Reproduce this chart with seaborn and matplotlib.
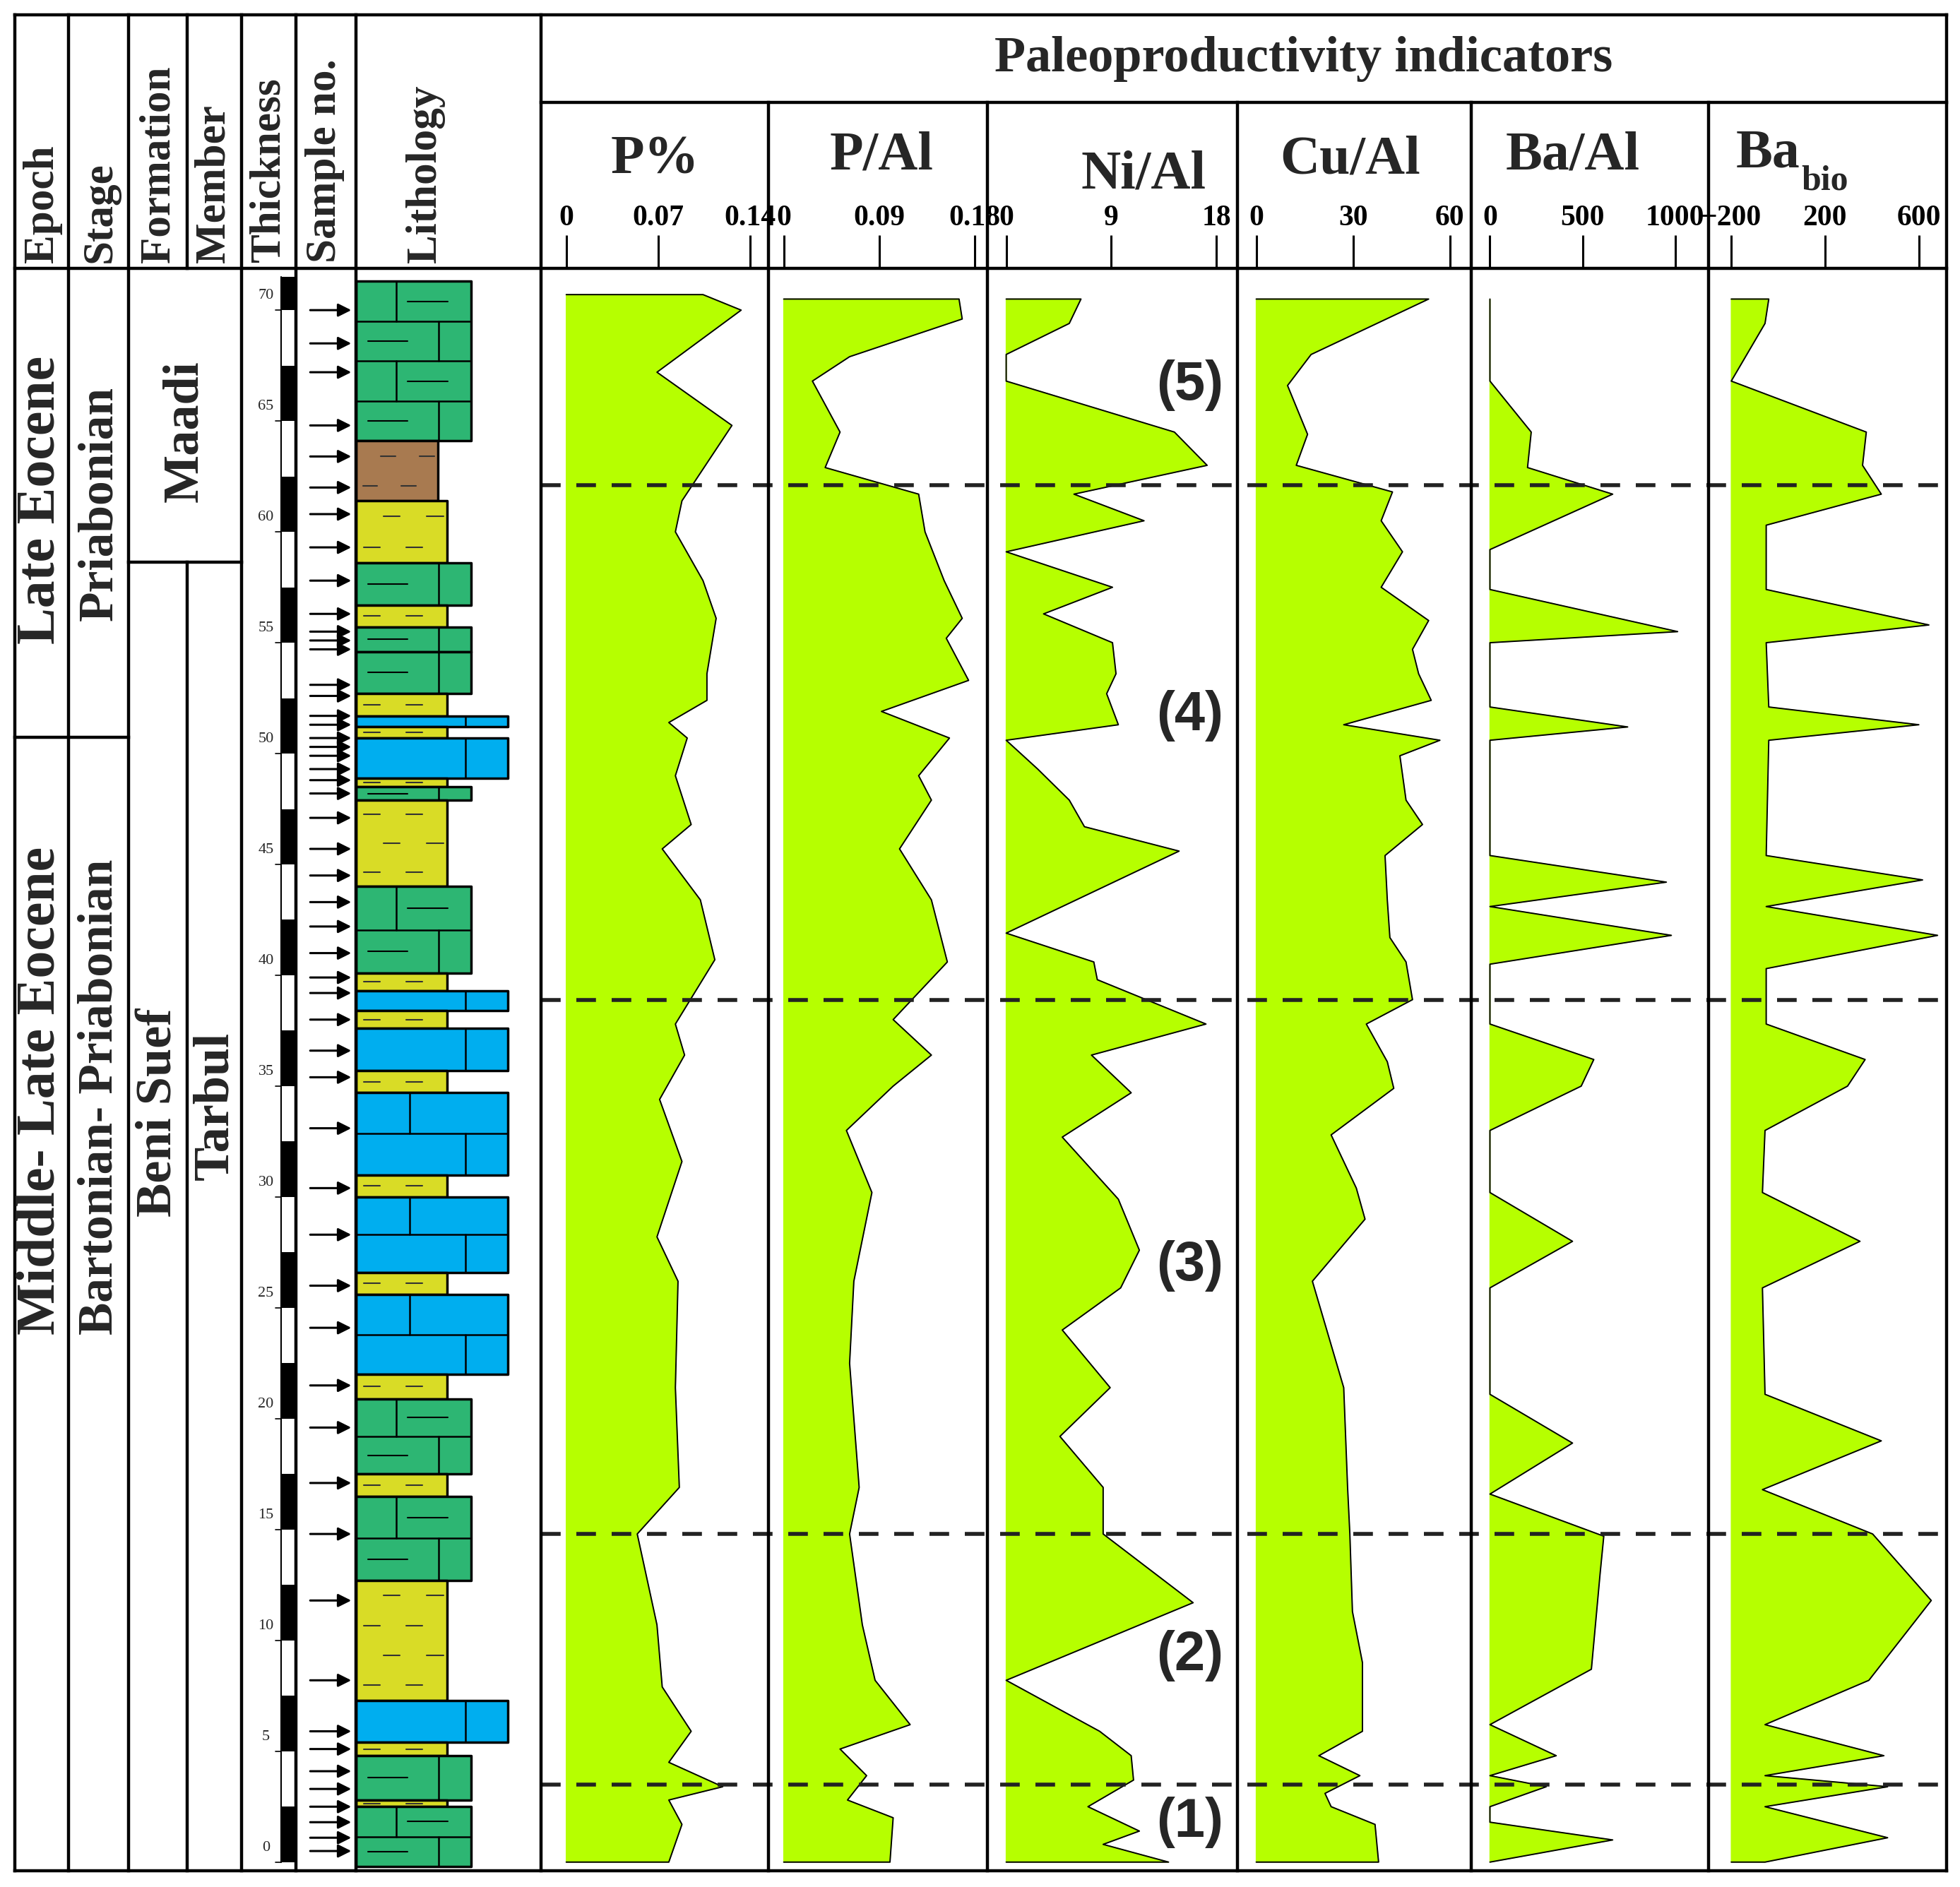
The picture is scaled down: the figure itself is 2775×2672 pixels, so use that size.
import numpy as np
import matplotlib
matplotlib.use("Agg")
import matplotlib.pyplot as plt
import seaborn as sns

# ─── Data (depth in m, values in axis units) ──────────────────────────────────

p_depth = [70.7, 70.0, 67.2, 64.8, 61.4, 60.0, 57.8, 56.1, 53.6, 52.4, 51.4, 50.7,
           49.0, 46.8, 45.7, 43.4, 40.7, 37.8, 36.4, 34.4, 31.6, 28.2, 26.2, 21.4,
           16.9, 14.8, 10.7, 7.9, 5.9, 4.5, 3.4, 2.8, 1.7, 0.0]
p_pct = [0.104, 0.133, 0.069, 0.126, 0.088, 0.083, 0.104, 0.114, 0.107, 0.107, 0.078,
         0.092, 0.083, 0.095, 0.073, 0.102, 0.113, 0.083, 0.090, 0.071, 0.088, 0.069,
         0.085, 0.083, 0.086, 0.054, 0.069, 0.073, 0.095, 0.078, 0.119, 0.078, 0.088,
         0.078]

pal_depth = [70.5, 69.6, 67.9, 66.8, 64.5, 62.9, 61.7, 60.0, 57.8, 56.1, 55.2, 53.3,
             51.9, 50.7, 49.0, 47.9, 45.7, 43.4, 40.6, 38.0, 36.4, 35.0, 33.0, 30.2,
             26.2, 22.5, 16.9, 14.8, 10.7, 8.2, 6.2, 5.1, 3.9, 2.8, 2.0, 0.0]
p_al = [0.165, 0.168, 0.062, 0.027, 0.053, 0.039, 0.127, 0.133, 0.151, 0.168, 0.153,
        0.174, 0.092, 0.156, 0.127, 0.139, 0.109, 0.139, 0.154, 0.103, 0.139, 0.103,
        0.059, 0.083, 0.066, 0.062, 0.071, 0.062, 0.074, 0.086, 0.119, 0.053, 0.078,
        0.060, 0.103, 0.100]

ni_depth = [70.5, 69.4, 68.0, 66.8, 64.5, 63.0, 61.7, 60.5, 59.1, 57.5, 56.3, 55.0,
            53.6, 52.7, 51.3, 50.6, 49.3, 47.9, 46.7, 45.6, 41.9, 40.6, 39.8, 37.8,
            36.4, 34.7, 32.7, 29.9, 27.6, 25.9, 24.0, 21.4, 19.2, 16.9, 14.8, 11.7,
            8.2, 5.9, 4.8, 3.7, 2.5, 1.4, 0.8, 0.0]
ni_al = [6.4, 5.4, 0.0, 0.0, 14.4, 17.2, 5.8, 11.8, 0.0, 9.1, 3.2, 9.1, 9.4, 8.6, 9.6,
         0.0, 2.7, 5.4, 6.7, 14.8, 0.0, 7.5, 7.8, 17.1, 7.3, 10.7, 4.8, 9.6, 11.4, 9.8,
         4.8, 8.9, 4.6, 8.3, 8.3, 16.0, 0.0, 8.0, 10.7, 10.9, 7.0, 11.4, 8.3, 13.9]

cu_depth = [70.5, 68.0, 66.6, 64.4, 63.0, 61.8, 60.5, 59.1, 57.5, 56.0, 54.7, 53.6,
            52.4, 51.3, 50.6, 49.9, 47.9, 46.8, 45.4, 43.4, 41.7, 40.6, 38.9, 37.8,
            36.1, 34.9, 32.8, 30.4, 29.0, 26.2, 21.4, 16.9, 14.8, 11.3, 9.0, 5.9, 4.8,
            3.9, 3.1, 2.5, 1.7, 0.0]
cu_al = [53.4, 17.0, 9.7, 15.9, 12.4, 42.2, 38.7, 45.3, 38.7, 53.4, 48.4, 50.3, 54.2,
         27.1, 56.9, 44.5, 46.4, 51.5, 39.9, 40.6, 41.4, 46.4, 48.4, 34.1, 40.6, 42.6,
         23.2, 31.0, 33.7, 17.4, 27.1, 28.3, 29.0, 29.8, 32.9, 32.9, 19.4, 32.1, 21.3,
         23.2, 36.8, 37.9]

ba_depth = [70.5, 66.8, 64.5, 62.9, 61.7, 59.2, 57.4, 55.5, 55.0, 52.1, 51.2, 50.6,
            45.4, 44.2, 43.1, 41.8, 40.5, 37.8, 36.2, 35.0, 33.0, 30.2, 28.0, 25.9,
            21.1, 18.9, 16.6, 14.7, 13.0, 8.7, 6.2, 4.8, 3.9, 3.4, 2.5, 1.8, 1.0, 0.0]
ba_al = [0, 0, 223, 203, 663, 0, 0, 1014, 0, 0, 744, 0, 0, 953, 0, 980, 0, 0, 561, 493,
         0, 0, 446, 0, 0, 446, 0, 615, 595, 548, 0, 358, 0, 304, 0, 0, 663, 0]

babio_depth = [70.5, 69.4, 66.8, 64.5, 63.0, 61.7, 60.3, 57.4, 55.8, 55.0, 52.1, 51.3,
               50.6, 45.4, 44.3, 43.1, 41.8, 40.3, 37.8, 36.2, 35.0, 33.0, 30.2, 28.0,
               25.9, 21.1, 19.0, 16.8, 14.8, 11.8, 8.2, 6.2, 4.8, 3.9, 3.4, 2.5, 1.1, 0.0]
ba_bio = [-40, -56, -200, 376, 360, 440, -51, -51, 643, -51, -40, 600, -40, -51, 616,
          -51, 680, -51, -51, 371, 296, -56, -67, 349, -67, -56, 440, -67, 403, 653,
          387, -56, 451, -56, 467, -56, 467, -56]

sample_depths = [70.0, 68.5, 67.2, 64.8, 63.4, 62.0, 60.8, 59.3, 57.8, 56.3, 55.5, 55.1,
                 54.7, 53.1, 52.6, 51.7, 51.3, 50.7, 50.3, 49.9, 49.3, 48.8, 48.2, 47.1,
                 45.7, 44.5, 43.3, 42.2, 41.0, 39.9, 39.2, 38.0, 36.6, 35.4, 33.1, 30.4,
                 28.3, 26.0, 24.1, 21.5, 19.6, 17.1, 14.8, 11.8, 8.2, 5.9, 5.1, 4.1, 3.3,
                 2.5, 1.8, 1.1, 0.5]

# lithology beds: (top, base, rock)
bed_top = [71.3, 64.1, 61.4, 58.6, 56.7, 55.7, 54.6, 52.7, 51.7, 51.2, 50.7, 48.9, 48.5,
           47.9, 44.0, 40.1, 39.3, 38.4, 37.6, 35.7, 34.7, 31.0, 30.0, 26.6, 25.6, 22.0,
           20.9, 17.5, 16.5, 12.7, 7.3, 5.4, 4.8, 2.8, 2.5]
bed_base = [64.1, 61.4, 58.6, 56.7, 55.7, 54.6, 52.7, 51.7, 51.2, 50.7, 48.9, 48.5, 47.9,
            44.0, 40.1, 39.3, 38.4, 37.6, 35.7, 34.7, 31.0, 30.0, 26.6, 25.6, 22.0, 20.9,
            17.5, 16.5, 12.7, 7.3, 5.4, 4.8, 2.8, 2.5, -0.2]
bed_rock = ["green", "brown", "yellow", "green", "yellow", "green", "green", "yellow",
            "blue", "yellow", "blue", "yellow", "green", "yellow", "green", "yellow",
            "blue", "yellow", "blue", "yellow", "blue", "yellow", "blue", "yellow",
            "blue", "yellow", "green", "yellow", "green", "yellow", "blue", "yellow",
            "green", "yellow", "green"]

zone_bounds = [62.1, 38.9, 14.8, 3.5]
zone_labels = ["(5)", "(4)", "(3)", "(2)", "(1)"]
zone_label_depth = [66.6, 51.7, 26.9, 9.3, 1.8]
thick_ticks = list(range(0, 71, 5))

# ─── Style ────────────────────────────────────────────────────────────────────

sns.set_theme(style="white")
plt.rcParams["font.family"] = ["Liberation Serif", "DejaVu Serif"]
plt.rcParams["font.weight"] = "bold"

FILL = "#b6ff00"
ROCK = {"green": ("#2db673", 0.62), "brown": ("#a87a50", 0.44),
        "yellow": ("#d9dc26", 0.49), "blue": ("#00aeef", 0.82)}
W, H = 1568, 1510
TOP_D, BOT_D = 71.87, -0.39

fig = plt.figure(figsize=(27.75, 26.72), dpi=100)


def add_ax(x0, x1, y0=215, y1=1497):
    return fig.add_axes([x0 / W, 1 - y1 / H, (x1 - x0) / W, (y1 - y0) / H])


def clean(ax):
    ax.set_ylim(BOT_D, TOP_D)
    ax.set_facecolor("none")
    for s in ax.spines.values():
        s.set_visible(False)
    ax.set_xlabel("")
    ax.set_ylabel("")


# ─── Data panels ──────────────────────────────────────────────────────────────

panels = [
    (433, 615, p_depth, p_pct, 0, (-0.019, 0.154), [0, 0.07, 0.14], ["0", "0.07", "0.14"], True),
    (615, 790, pal_depth, p_al, 0, (-0.0141, 0.1918), [0, 0.09, 0.18], ["0", "0.09", "0.18"], True),
    (790, 990, ni_depth, ni_al, 0, (-1.6, 19.8), [0, 9, 18], ["0", "9", "18"], True),
    (990, 1177, cu_depth, cu_al, 0, (-5.8, 66.6), [0, 30, 60], ["0", "30", "60"], True),
    (1177, 1367, ba_depth, ba_al, 0, (-101, 1182), [0, 500, 1000], ["0", "500", "1000"], True),
    (1367, 1557, babio_depth, ba_bio, -200, (-296, 717), [-200, 200, 600], ["\u2212200", "200", "600"], True),
]

for x0, x1, dep, val, base, xl, ticks, tlabels, top in panels:
    ax = add_ax(x0, x1)
    xs = [base] + list(val) + [base]
    ys = [dep[0]] + list(dep) + [dep[-1]]
    ax.fill(xs, ys, color=FILL, zorder=1)
    sns.lineplot(x=xs, y=ys, sort=False, estimator=None, orient="y",
                 color="black", lw=1.4, ax=ax, zorder=2)
    ax.set_xlim(*xl)
    clean(ax)
    ax.set_yticks([])
    ax.xaxis.tick_top()
    ax.set_xticks(ticks)
    ax.set_xticklabels(tlabels)
    ax.tick_params(axis="x", direction="out", length=34, width=2.2, colors="black",
                   labelsize=30, pad=4, top=True, bottom=False)

# zone boundaries and labels
zax = add_ax(433, 1557)
zax.set_xlim(0, 1)
clean(zax)
zax.set_xticks([])
zax.set_yticks([])
for d in zone_bounds:
    zax.axhline(d, color="#222222", lw=4, ls=(0, (5, 4)), zorder=5)
for lab, d in zip(zone_labels, zone_label_depth):
    zax.text((952 - 433) / (1557 - 433), d, lab, ha="center", va="center",
             fontsize=56, fontweight="bold", family=["Liberation Sans", "DejaVu Sans"])

# ─── Thickness scale ──────────────────────────────────────────────────────────

tax = add_ax(193, 237)
tax.set_xlim(0, 1)
clean(tax)
tax.set_xticks([])
tax.set_yticks([])
for k in range(29):
    if k % 2 == 0:
        tax.fill_between([0.73, 0.98], 2.5 * k, min(2.5 * k + 2.5, 71.5),
                         color="black", lw=0)
tax.plot([0.73, 0.73], [0, 71.5], color="black", lw=1.5)
tax.plot([0.98, 0.98], [0, 71.5], color="black", lw=1.5)
for t in thick_ticks:
    tax.text(0.45, t + 0.35, str(t), ha="center", va="bottom", fontsize=16,
             fontweight="normal")
    tax.plot([0.62, 0.73], [t, t], color="black", lw=1.2)

# ─── Sample arrows ────────────────────────────────────────────────────────────

sax = add_ax(237, 285)
sax.set_xlim(0, 1)
clean(sax)
sax.set_xticks([])
sax.set_yticks([])
for d in sample_depths:
    sax.annotate("", xy=(0.95, d), xytext=(0.2, d),
                 arrowprops=dict(arrowstyle="-|>", color="black", lw=2.2,
                                 mutation_scale=28))

# ─── Lithology ────────────────────────────────────────────────────────────────

lax = add_ax(285, 433)
lax.set_xlim(0, 1)
clean(lax)
lax.set_xticks([])
lax.set_yticks([])
for top, base, rock in zip(bed_top, bed_base, bed_rock):
    col, wd = ROCK[rock]
    lax.fill_between([0, wd], base, top, color=col, ec="black", lw=2.5, zorder=2)
    if rock in ("green", "blue"):
        row = 1.75
        n = max(1, int(round((top - base) / row)))
        row = (top - base) / n
        for i in range(n):
            y0 = base + i * row
            if i > 0:
                lax.plot([0, wd], [y0, y0], color="black", lw=1.8, zorder=3)
            xv = wd * (0.35 if i % 2 else 0.72)
            lax.plot([xv, xv], [y0, y0 + row], color="black", lw=1.8, zorder=3)
            if rock == "green":
                xd = wd * (0.1 if i % 2 == 0 else 0.45)
                lax.plot([xd, xd + wd * 0.35], [y0 + row / 2] * 2,
                         color="black", lw=1.5, zorder=3)
    else:
        n = max(1, int(round((top - base) / 1.2)))
        step = (top - base) / n
        for i in range(n):
            y0 = base + (i + 0.5) * step
            for xd in ([0.08, 0.55] if i % 2 == 0 else [0.3, 0.78]):
                lax.plot([wd * xd, wd * (xd + 0.18)], [y0, y0], color="#333333",
                         lw=1.5, zorder=3)

# ─── Frame and header (overlay, display pixel units) ─────────────────────────

ov = fig.add_axes([0, 0, 1, 1])
ov.set_xlim(0, W)
ov.set_ylim(H, 0)
ov.axis("off")
ov.set_facecolor("none")

LW = 3.2
for y, xa, xb in [(12, 12, 1557), (82, 433, 1557), (215, 12, 1557), (1497, 12, 1557),
                  (590, 12, 103), (450, 103, 193)]:
    ov.plot([xa, xb], [y, y], color="black", lw=LW, solid_capstyle="projecting")
for x, ya, yb in [(12, 12, 1497), (55, 12, 1497), (103, 12, 1497), (150, 12, 215),
                  (150, 450, 1497), (193, 12, 1497), (237, 12, 1497), (285, 12, 1497),
                  (433, 12, 1497), (615, 82, 1497), (790, 82, 1497), (990, 82, 1497),
                  (1177, 82, 1497), (1367, 82, 1497), (1557, 12, 1497)]:
    ov.plot([x, x], [ya, yb], color="black", lw=LW, solid_capstyle="projecting")

for lab, x in [("Epoch", 34), ("Stage", 80), ("Formation", 127), ("Member", 171),
               ("Thickness", 215), ("Sample no.", 260), ("Lithology", 340)]:
    ov.text(x, 210, lab, rotation=90, ha="center", va="bottom", fontsize=44,
            fontweight="bold")

ov.text(1043, 47, "Paleoproductivity indicators", ha="center", va="center",
        fontsize=52, fontweight="bold")
for lab, x, y in [("P%", 524, 128), ("P/Al", 705, 125), ("Ni/Al", 915, 140),
                  ("Cu/Al", 1080, 128), ("Ba/Al", 1258, 125)]:
    ov.text(x, y, lab, ha="center", va="center", fontsize=56, fontweight="bold")
ov.text(1440, 123, "Ba", ha="right", va="center", fontsize=56, fontweight="bold")
ov.text(1441, 145, "bio", ha="left", va="center", fontsize=36, fontweight="bold")

for lab, x, y, fs in [("Late Eocene", 33, 400, 56), ("Middle- Late Eocene", 33, 873, 56),
                      ("Priabonian", 80, 403, 50), ("Bartonian- Priabonian", 80, 878, 50),
                      ("Maadi", 148, 345, 52), ("Beni Suef", 127, 890, 52),
                      ("Tarbul", 172, 885, 52)]:
    ov.text(x, y, lab, rotation=90, ha="center", va="center", fontsize=fs,
            fontweight="bold")

fig.savefig("out.png", dpi=100, facecolor="white")
